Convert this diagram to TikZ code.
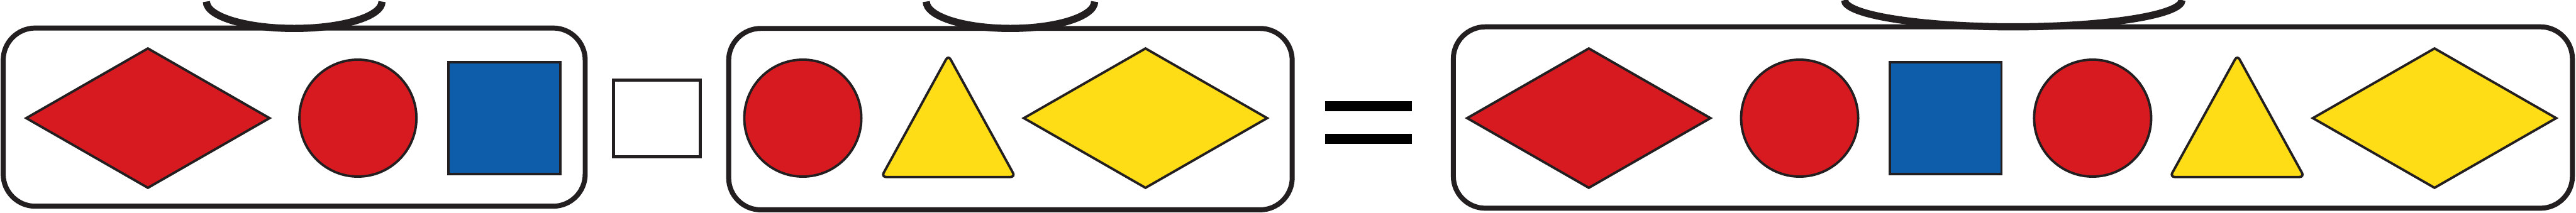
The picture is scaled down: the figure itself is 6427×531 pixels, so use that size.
\documentclass[tikz,border=0pt]{standalone}
\usetikzlibrary{shapes.geometric}
\definecolor{inkline}{HTML}{231F20}
\definecolor{pcred}{HTML}{D71920}
\definecolor{pcblue}{HTML}{0E5DAB}
\definecolor{pcyellow}{HTML}{FEDD17}
\begin{document}
\begin{tikzpicture}[
      x=0.1mm, y=0.1mm,
      tray/.style={draw=inkline, line width=1.25mm, rounded corners=8mm},
      handle/.style={draw=inkline, line width=1.8mm},
      piece/.style={draw=inkline, line width=0.6mm, inner sep=0pt, outer sep=0pt},
      kite/.style={piece, diamond, minimum width=60.7mm, minimum height=34.8mm},
      ball/.style={piece, circle, fill=pcred, minimum size=29.2mm},
      tile/.style={piece, rectangle, fill=pcblue, minimum size=27.9mm},
      cone/.style={piece, fill=pcyellow, rounded corners=1.2mm},
      blank/.style={draw=inkline, line width=0.8mm, rectangle, minimum width=21.6mm, minimum height=19.2mm}
    ]
    \useasboundingbox (0,0) rectangle (6427,531);
    \draw[tray] (8,16) rectangle (1460,461);
    \draw[handle] (515,527) arc[start angle=180, end angle=360, x radius=21.9mm, y radius=6.7mm];
    \node[kite, fill=pcred] (kiteA) at (369,236) {};
    \node[ball] (ballA) at (893,236) {};
    \node[tile] (tileA) at (1258,236) {};
    \node[blank] (gap) at (1639,235) {};
    \draw[tray] (1818,7) rectangle (3224,460);
    \draw[handle] (2311,527) arc[start angle=180, end angle=360, x radius=21.0mm, y radius=6.7mm];
    \node[ball] (ballB) at (2003,236) {};
    \coordinate (coneBtop) at (2366,393);
    \draw[cone] (2199,89) -- (coneBtop) -- (2533,89) -- cycle;
    \node[kite, fill=pcyellow] (kiteB) at (2858,236) {};
    \fill (3306,253) rectangle (3523,279);
    \fill (3306,171) rectangle (3523,196);
    \draw[tray] (3626,11) rectangle (6418,464);
    \draw[handle] (4602,531) arc[start angle=180, end angle=360, x radius=42.1mm, y radius=6.7mm];
    \node[kite, fill=pcred] (kiteC) at (3964,236) {};
    \node[ball] (ballC) at (4490,236) {};
    \node[tile] (tileC) at (4854,236) {};
    \node[ball] (ballD) at (5221,236) {};
    \coordinate (coneDtop) at (5582,393);
    \draw[cone] (5414,89) -- (coneDtop) -- (5749,89) -- cycle;
    \node[kite, fill=pcyellow] (kiteD) at (6074,236) {};
  \end{tikzpicture}
\end{document}
